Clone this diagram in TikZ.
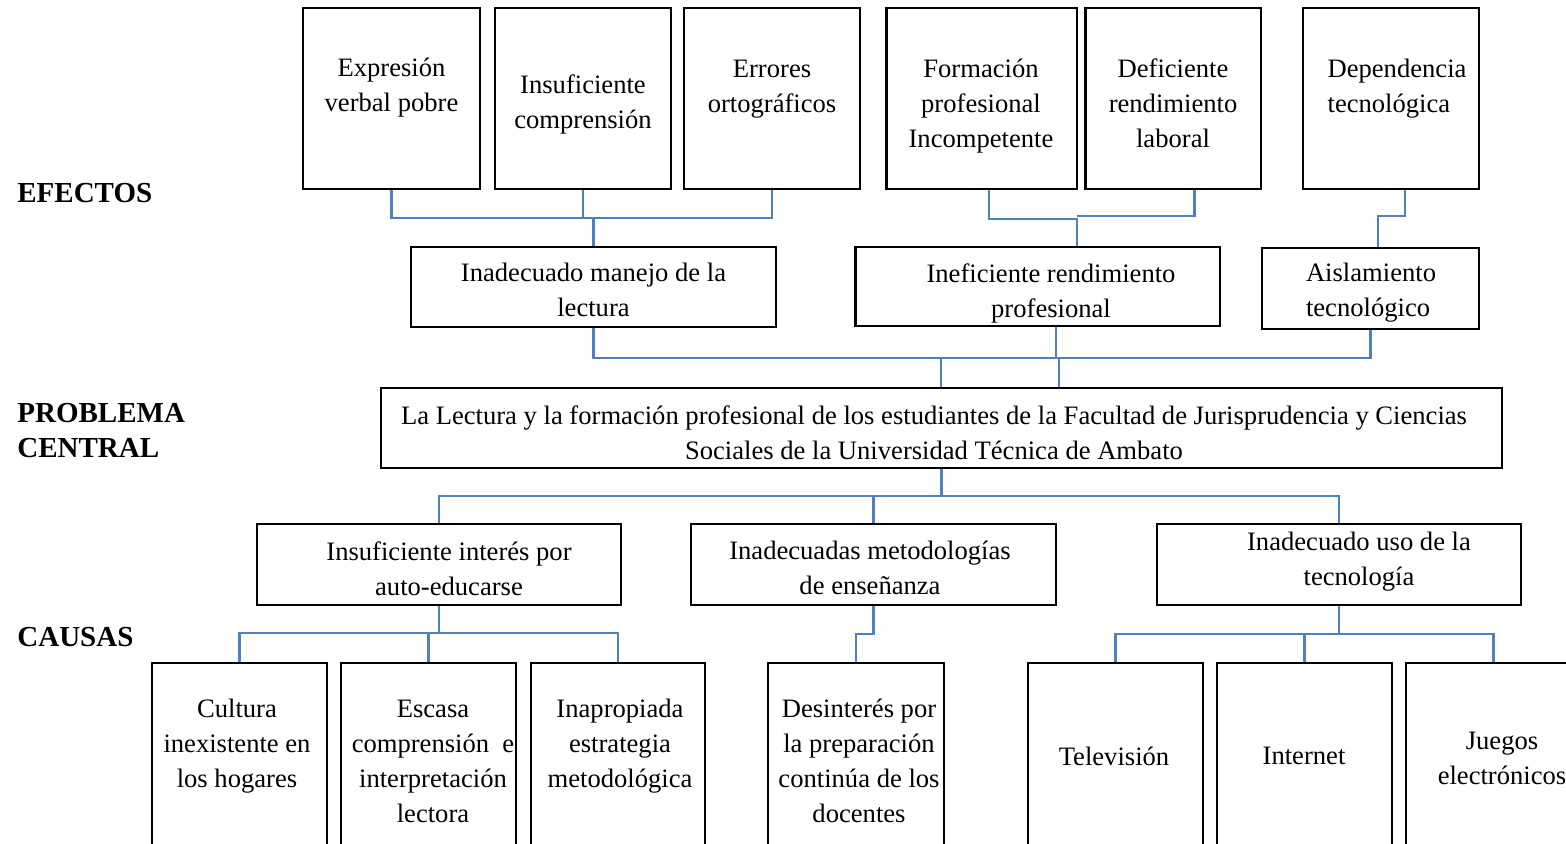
\documentclass[tikz,border=0pt]{standalone}
\usepackage{fontspec}
\setmainfont{Liberation Serif}
\usepackage{tikz}
\definecolor{ProblemTreeBlue}{RGB}{79,129,189}
\newlength\pxlen
\setlength\pxlen{0.5pt}

\begin{document}
\begin{tikzpicture}[x=1\pxlen,y=-1\pxlen,box/.style n args={2}{draw,line width=1.3pt,minimum width=#1\pxlen,minimum height=#2\pxlen,inner sep=0pt},txt/.style={align=#1,inner sep=0pt,font=\fontsize{13.3}{17.5}\selectfont},lbl/.style={anchor=west,align=left,inner sep=0pt,font=\fontsize{14.5}{17.5}\selectfont\bfseries},conn/.style={draw=ProblemTreeBlue,line width=1.2pt}]
\useasboundingbox (0,0) rectangle (1566,844);
\clip (0,0) rectangle (1566,844);
% boxes
\foreach \nm/\cx/\cy/\w/\h in %
{e1/391.5/98.5/177/181,e2/583/98.5/176/181,e3/772/98.5/176/181,
 e4/981.75/98.5/190.5/181,e5/1173.3/98.5/175.4/181,e6/1391/98.5/176/181,
 m1/593.5/287/365/80,m2/1037.75/286.5/364.5/79,m3/1370.5/288.5/217/81,
 c0/941.5/428/1121/80,
 k1/439/564.5/364/81,k2/873.5/564.5/365/81,k3/1339/564.5/364/81,
 b1/239.5/763/175/200,b2/428.5/763/175/200,b3/618/763/174/200,b4/856/763/176/200,
 b5/1115.5/763/175/200,b6/1304.5/763/175/200,b7/1493.5/763/175/200} {
   \node[box={\w}{\h}] (\nm) at (\cx,\cy) {};
}
% texts
\foreach \nm/\x/\y/\t in %
{e1t/391.5/87.5/{Expresión\\verbal pobre},
 e2t/583/104.5/{Insuficiente\\comprensión},
 e3t/772/89.5/{Errores\\ortográficos},
 e4t/981/106/{Formación\\profesional\\Incompetente},
 e5t/1173/103/{Deficiente\\rendimiento\\laboral},
 m1t/593.5/290/{Inadecuado manejo de la\\lectura},
 m2t/1051/293/{Ineficiente rendimiento\\profesional},
 c0t/934/433/{La Lectura y la formación profesional de los estudiantes de la Facultad de Jurisprudencia y Ciencias\\Sociales de la Universidad Técnica de Ambato},
 k1t/449/568.5/{Insuficiente interés por\\auto-educarse},
 k2t/870/567.5/{Inadecuadas metodologías\\de enseñanza},
 k3t/1359/561.5/{Inadecuado uso de la\\tecnología},
 b1t/237/746/{Cultura\\inexistente en\\los hogares},
 b2t/433/761.5/{Escasa\\comprensión\ \ e\\interpretación\\lectora},
 b3t/620/746/{Inapropiada\\estrategia\\metodológica},
 b4t/859/761/{Desinterés por\\la preparación\\continúa de los\\docentes},
 b5t/1114/756/{Televisión},
 b6t/1304/756/{Internet},
 b7t/1502/758.5/{Juegos\\electrónicos}} {
   \node[txt=center] (\nm) at (\x,\y) {\t};
}
\node[txt=left] (e6t) at (1397,88.5) {Dependencia\\tecnológica};
\node[txt=left] (m3t) at (1371,293) {Aislamiento\\tecnológico};
% row labels
\node[lbl] (efectos) at (17,193) {EFECTOS};
\node[lbl] (problema) at (17,430.5) {PROBLEMA\\CENTRAL};
\node[lbl] (causas) at (17,637) {CAUSAS};
% connectors
\coordinate (eb1) at (593.5,218);
\coordinate (eb2) at (1077,219);
\coordinate (eb3) at (1378,216);
\coordinate (mb1) at (941,358);
\coordinate (mb2) at (1059,358);
\coordinate (cb) at (941.5,496);
\coordinate (kb1) at (439,633);
\coordinate (kb2) at (873.5,634);
\coordinate (kb3) at (1339,634);
\draw[conn] (e1.south) |- (eb1) -| (e3.south);
\draw[conn] (e2.south) -- (e2.south |- eb1);
\draw[conn] (eb1) -- (eb1 |- m1.north);
\draw[conn] ([xshift=7\pxlen]e4.south) |- (eb2) -- (eb2 |- m2.north);
\draw[conn] ([xshift=21\pxlen]e5.south) |- ([yshift=3\pxlen]eb2);
\draw[conn] ([xshift=14\pxlen]e6.south) |- (eb3) -- (eb3 |- m3.north);
\draw[conn] (m1.south) |- (mb1) -| (m3.south);
\draw[conn] ([xshift=18\pxlen]m2.south) -- ([xshift=18\pxlen]m2.south |- mb1);
\draw[conn] (mb1) -- (mb1 |- c0.north);
\draw[conn] (mb2) -- (mb2 |- c0.north);
\draw[conn] (c0.south) -- (cb);
\draw[conn] (k1.north) |- (cb) -| (k3.north);
\draw[conn] (k2.north) -- (k2.north |- cb);
\draw[conn] (k1.south) -- (kb1);
\draw[conn] (b1.north) |- (kb1) -| (b3.north);
\draw[conn] (b2.north) -- (b2.north |- kb1);
\draw[conn] (k2.south) -- (kb2) -| (b4.north);
\draw[conn] (k3.south) -- (kb3);
\draw[conn] (b5.north) |- (kb3) -| (b7.north);
\draw[conn] (b6.north) -- (b6.north |- kb3);
\end{tikzpicture}
\end{document}
